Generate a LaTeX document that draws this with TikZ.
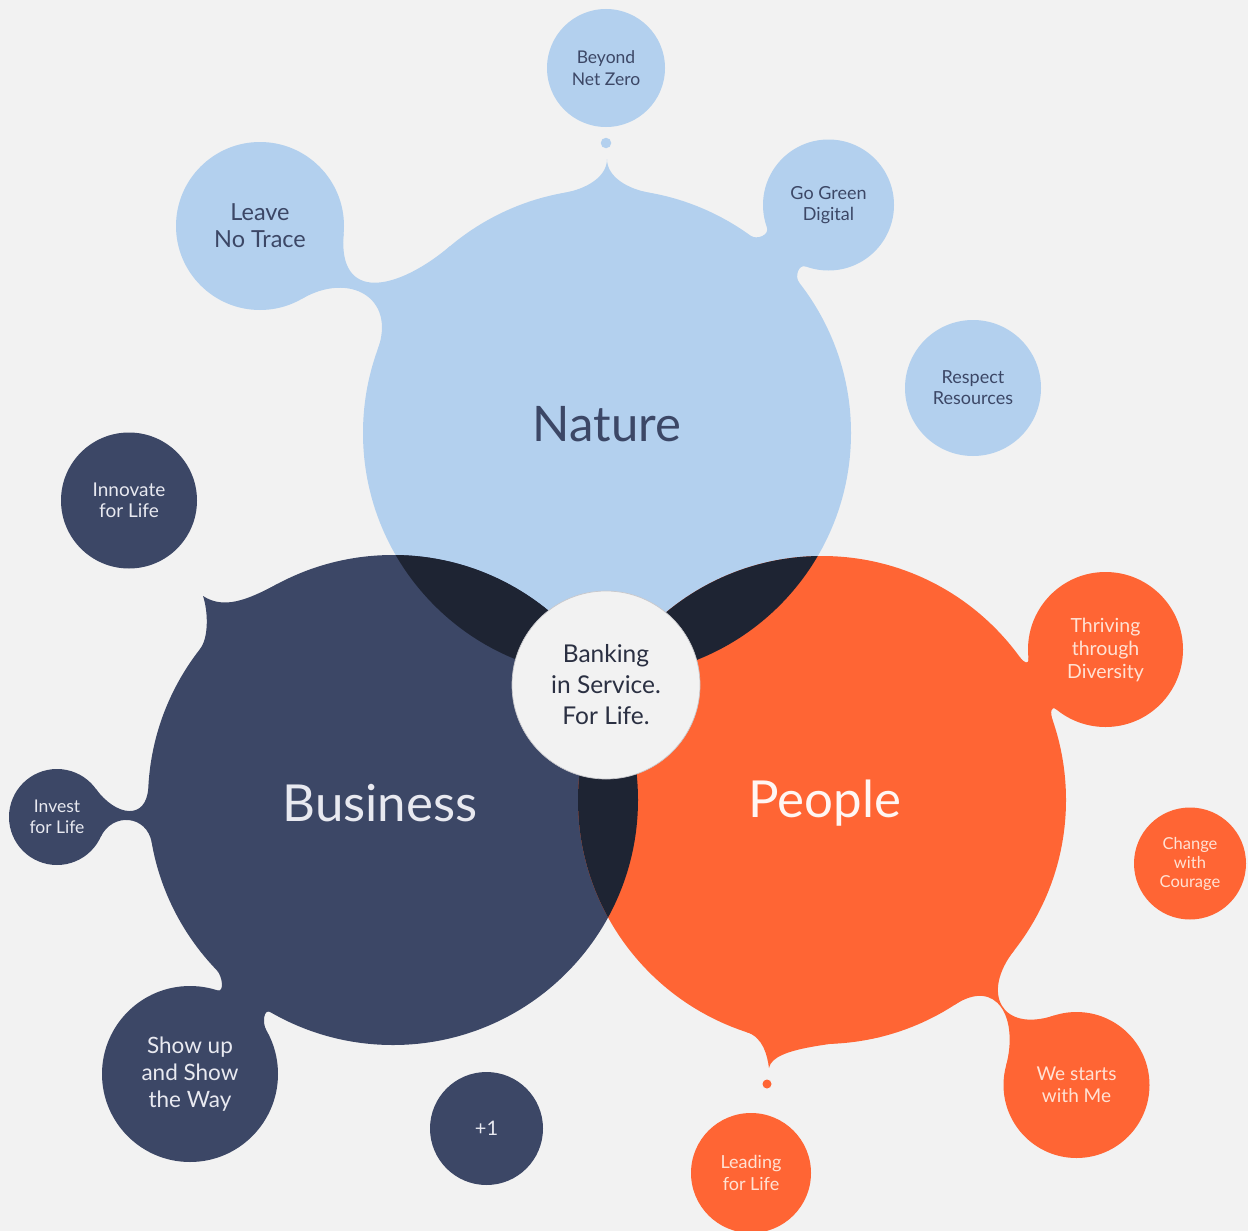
\documentclass[tikz,border=0pt]{standalone}
\usepackage{fontspec}
\setmainfont{Lato}
\usepackage{xcolor}
\definecolor{paper}{RGB}{242,242,242}
\definecolor{natureblue}{RGB}{179,208,238}
\definecolor{navy}{RGB}{60,71,102}
\definecolor{peopleorange}{RGB}{255,101,52}
\definecolor{overlap}{RGB}{30,36,51}
\definecolor{coreink}{RGB}{43,48,66}
\definecolor{lightink}{RGB}{232,233,240}
\definecolor{peachink}{RGB}{255,226,212}
\definecolor{rim}{RGB}{200,200,204}
\usepackage{tikz}
\usetikzlibrary{calc,positioning}

% neck between a big bubble and a small one
\newcommand{\neck}[9]{%
  \fill[#1] (#2.#3) .. controls +(#3-90:#8) and +(#6+90:#8) .. (#5.#6)
    -- (#5.#7) .. controls +(#7-90:#9) and +(#4+90:#9) .. (#2.#4) -- cycle;}
\newcommand{\fs}[2]{\fontsize{#1}{#2}\selectfont}

\begin{document}
\begin{tikzpicture}[x=1pt,y=1pt,
    bubble/.style={circle, inner sep=0pt, outer sep=0pt, align=center},
    blue bubble/.style={bubble, fill=natureblue, text=navy},
    navy bubble/.style={bubble, fill=navy, text=lightink},
    orange bubble/.style={bubble, fill=peopleorange, text=peachink}]
  \useasboundingbox (0,0) rectangle (1248,-1231);
  \fill[paper] (0,0) rectangle (1248,-1231);

  % the three big circles
  \node[bubble, fill=natureblue, minimum size=488pt] (nature) at (607,-433) {};
  \node[bubble, fill=navy, minimum size=490pt] (business) at (393,-800) {};
  \node[bubble, fill=peopleorange, minimum size=488pt] (people) at (822,-800) {};

  % satellites
  \node[blue bubble, minimum size=118pt, font=\fs{17.5}{22}] (beyond) at (606,-68) {Beyond\\Net Zero};
  \node[blue bubble, minimum size=168pt, font=\fs{23.5}{27}] (leave) at (260,-226) {Leave\\No Trace};
  \node[blue bubble, minimum size=131pt, font=\fs{18}{20.5}] (gogreen) at (828.5,-205) {Go Green\\Digital};
  \node[blue bubble, minimum size=136pt, font=\fs{18}{21}] (respect) at (973,-388) {Respect\\Resources};
  \node[navy bubble, minimum size=136pt, font=\fs{19}{21}] (innovate) at (129,-500.5) {Innovate\\for Life};
  \node[navy bubble, minimum size=96pt, font=\fs{17.5}{21}] (invest) at (57,-817) {Invest\\for Life};
  \node[navy bubble, minimum size=176pt, font=\fs{22.5}{27}] (showup) at (190,-1074) {Show up\\and Show\\the Way};
  \node[navy bubble, minimum size=113pt, font=\fs{20}{24}] (plusone) at (486.5,-1128.5) {+1};
  \node[orange bubble, minimum size=120pt, font=\fs{18}{22}] (leading) at (751,-1173) {Leading\\for Life};
  \node[orange bubble, minimum size=146pt, font=\fs{19}{22}] (westart) at (1076.5,-1085) {We starts\\with Me};
  \node[orange bubble, minimum size=112pt, font=\fs{16.5}{19}] (change) at (1190,-863.5) {Change\\with\\Courage};
  \node[orange bubble, minimum size=155pt, font=\fs{19.5}{23}] (thrive) at (1105.5,-649.5) {Thriving\\through\\Diversity};
  \node[bubble, fill=natureblue, minimum size=10.5pt] (natureDot) at (606,-143) {};
  \node[bubble, fill=peopleorange, minimum size=9pt] (peopleDot) at (767,-1084) {};

  % necks
  \neck{natureblue}{nature}{160}{130}{leave}{300}{355}{55pt}{70pt}
  \neck{natureblue}{nature}{54}{38}{gogreen}{200}{250}{8pt}{8pt}
  \neck{navy}{business}{190}{177}{invest}{335}{36}{28pt}{34pt}
  \neck{navy}{business}{240}{224}{showup}{30}{72}{8pt}{8pt}
  \neck{peopleorange}{people}{36}{19}{thrive}{186}{231}{8pt}{8pt}
  \neck{peopleorange}{people}{322}{303}{westart}{108}{165}{55pt}{50pt}

  % tips
  \coordinate (natureTip) at (607,-159);
  \coordinate (businessTip) at (203,-596);
  \coordinate (peopleTip) at (769,-1068);
  \fill[natureblue] (nature.100) .. controls +(10:22pt) and +(270:18pt) .. (natureTip)
    .. controls +(270:18pt) and +(170:22pt) .. (nature.80) -- cycle;
  \fill[navy] (business.142) .. controls +(52:15pt) and +(-71:15pt) .. (businessTip)
    .. controls +(-33:25pt) and +(208:35pt) .. (business.118) -- cycle;
  \fill[peopleorange] (people.284) .. controls +(190:45pt) and +(80:22pt) .. (peopleTip)
    .. controls +(98:12pt) and +(342:18pt) .. (people.252) -- cycle;

  % overlaps
  \begin{scope}
    \clip (nature.center) circle (244pt);
    \fill[overlap] (business.center) circle (245pt);
    \fill[overlap] (people.center) circle (244pt);
  \end{scope}
  \begin{scope}
    \clip (business.center) circle (245pt);
    \fill[overlap] (people.center) circle (244pt);
  \end{scope}

  \node[bubble, fill=paper, draw=rim, line width=0.7pt, minimum size=188pt,
    text=coreink, font=\fs{24.5}{31}] (core) at (606,-685) {Banking\\in Service.\\For Life.};

  \node[font=\fs{49}{49}, text=navy] (natureLabel) at (607,-424) {Nature};
  \node[font=\fs{51}{51}, text=lightink] (businessLabel) at (380,-803) {Business};
  \node[font=\fs{51}{51}, text=white!94!peopleorange] (peopleLabel) at (825,-803) {People};
\end{tikzpicture}
\end{document}
